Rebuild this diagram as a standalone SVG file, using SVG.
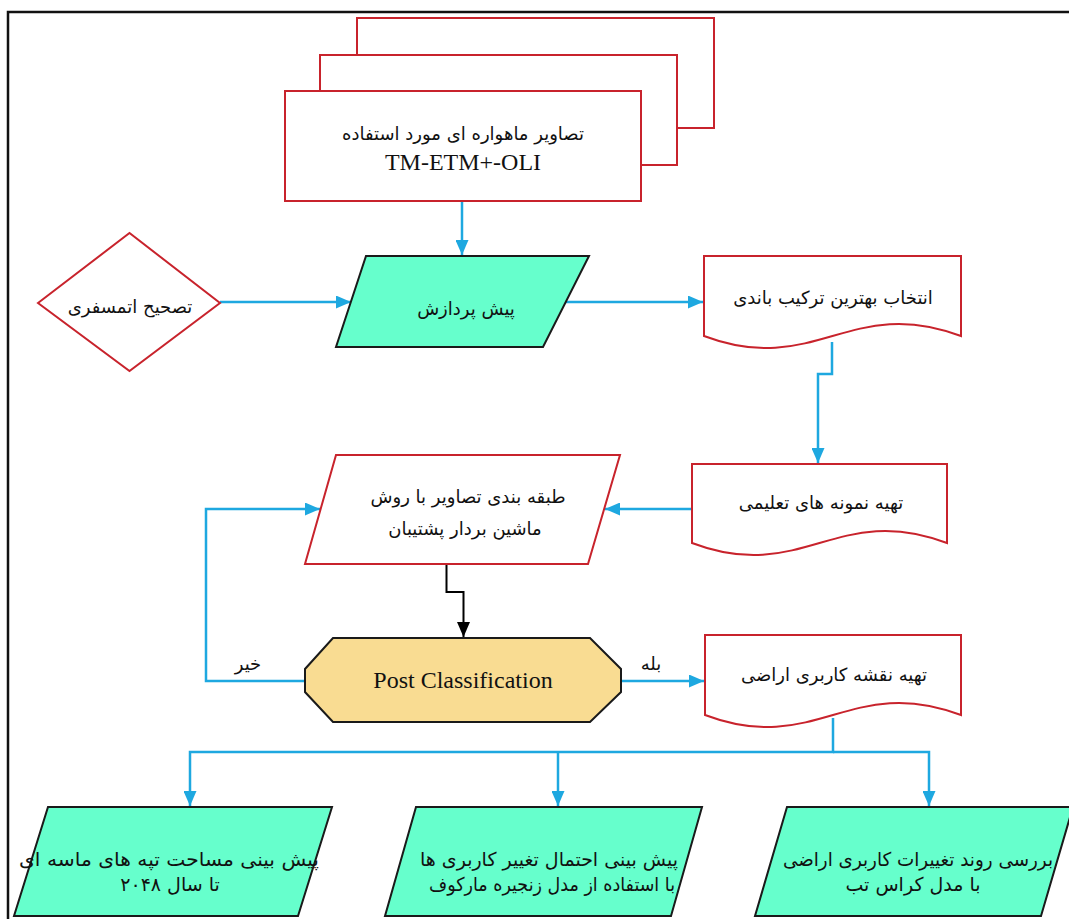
<svg xmlns="http://www.w3.org/2000/svg" width="1069" height="919" viewBox="0 0 1069 919">
<defs>
<marker id="ab" markerUnits="userSpaceOnUse" markerWidth="15" markerHeight="13" refX="15" refY="6.5" orient="auto"><path d="M0,0 L15,6.5 L0,13 z" fill="#1EA8E0"/></marker>
<marker id="ak" markerUnits="userSpaceOnUse" markerWidth="15" markerHeight="13" refX="15" refY="6.5" orient="auto"><path d="M0,0 L15,6.5 L0,13 z" fill="#000"/></marker>
</defs>
<style>
.red{fill:#fff;stroke:#C8232C;stroke-width:2}
.grn{fill:#66FFCC;stroke:#1a1a1a;stroke-width:2}
.oct{fill:#F9DC92;stroke:#1a1a1a;stroke-width:2}
.fa{font-family:"DejaVu Sans",sans-serif;font-size:18px;fill:#111;text-anchor:middle}
.fb{font-family:"DejaVu Sans",sans-serif;font-size:19px;fill:#111;text-anchor:middle}
.en{font-family:"Liberation Serif",serif;font-size:24px;fill:#111;text-anchor:middle}
.cb{fill:none;stroke:#1EA8E0;stroke-width:2.5}
.ck{fill:none;stroke:#000;stroke-width:2}
</style>
<rect x="8" y="12" width="1080" height="930" fill="#fff" stroke="#111" stroke-width="2.5"/>
<g id="connectors">
<path class="cb" d="M462,201 V255" marker-end="url(#ab)"/>
<path class="cb" d="M220,302 H351" marker-end="url(#ab)"/>
<path class="cb" d="M566,302 H703" marker-end="url(#ab)"/>
<path class="cb" d="M832,342 V374 H818 V463" marker-end="url(#ab)"/>
<path class="cb" d="M692,509 H605" marker-end="url(#ab)"/>
<path class="ck" d="M446.5,564 V592 H463.5 V637" marker-end="url(#ak)"/>
<path class="cb" d="M305,681 H206 V509 H320" marker-end="url(#ab)"/>
<path class="cb" d="M621,681 H704" marker-end="url(#ab)"/>
<path class="cb" d="M833,718 V752 H190 V806" marker-end="url(#ab)"/>
<path class="cb" d="M558,752 V806" marker-end="url(#ab)"/>
<path class="cb" d="M833,752 H929 V806" marker-end="url(#ab)"/>
<text class="fa" x="248" y="670">خیر</text>
<text class="fa" x="651" y="670">بله</text>
</g>
<g id="images">
<rect class="red" x="357" y="18" width="357" height="110"/>
<rect class="red" x="320" y="55" width="357" height="110"/>
<rect class="red" x="285" y="91" width="356" height="110"/>
<text class="fa" x="463" y="140">تصاویر ماهواره ای مورد استفاده</text>
<text class="en" x="463" y="170">TM-ETM+-OLI</text>
</g>
<g id="atmos">
<polygon class="red" points="38,303 129.5,233 220,303 129.5,371"/>
<text class="fa" x="130" y="313">تصحیح اتمسفری</text>
</g>
<g id="preproc">
<polygon class="grn" points="366,256 589,256 543,347 336,347"/>
<text class="fa" x="466" y="315">پیش پردازش</text>
</g>
<g id="bands">
<path class="red" d="M704,256 H961 V336 C850,294 815,378 704,336 Z"/>
<text class="fa" x="833" y="304">انتخاب بهترین ترکیب باندی</text>
</g>
<g id="training">
<path class="red" d="M692,464 H947 V543 C837,501 802,585 692,543 Z"/>
<text class="fa" x="821" y="509">تهیه نمونه های تعلیمی</text>
</g>
<g id="svm">
<polygon class="red" points="336,455 620,455 588,564 305,564"/>
<text class="fa" x="468" y="503">طبقه بندی تصاویر با روش</text>
<text class="fa" x="465" y="535">ماشین بردار پشتیبان</text>
</g>
<g id="postclass">
<polygon class="oct" points="333,638 590,638 621,669 621,692 590,722 333,722 305,692 305,669"/>
<text class="en" x="463" y="688">Post Classification</text>
</g>
<g id="landuse">
<path class="red" d="M705,635 H961 V715 C850,673 816,757 705,715 Z"/>
<text class="fa" x="834" y="681">تهیه نقشه کاربری اراضی</text>
</g>
<g id="dunes">
<polygon class="grn" points="48,807 332,807 298,916 14,916"/>
<text class="fb" x="169" y="866" textLength="300" lengthAdjust="spacingAndGlyphs">پیش بینی مساحت تپه های ماسه ای</text>
<text class="fb" x="170" y="891">تا سال ۲۰۴۸</text>
</g>
<g id="markov">
<polygon class="grn" points="416,807 702,807 671,916 385,916"/>
<text class="fb" x="549" y="866" textLength="258" lengthAdjust="spacingAndGlyphs">پیش بینی احتمال تغییر کاربری ها</text>
<text class="fb" x="552" y="891" textLength="246" lengthAdjust="spacingAndGlyphs">با استفاده از مدل زنجیره مارکوف</text>
</g>
<g id="crosstab">
<polygon class="grn" points="787,807 1073,807 1041,916 755,916"/>
<text class="fb" x="918" y="866" textLength="270" lengthAdjust="spacingAndGlyphs">بررسی روند تغییرات کاربری اراضی</text>
<text class="fb" x="913" y="891">با مدل کراس تب</text>
</g>
</svg>
